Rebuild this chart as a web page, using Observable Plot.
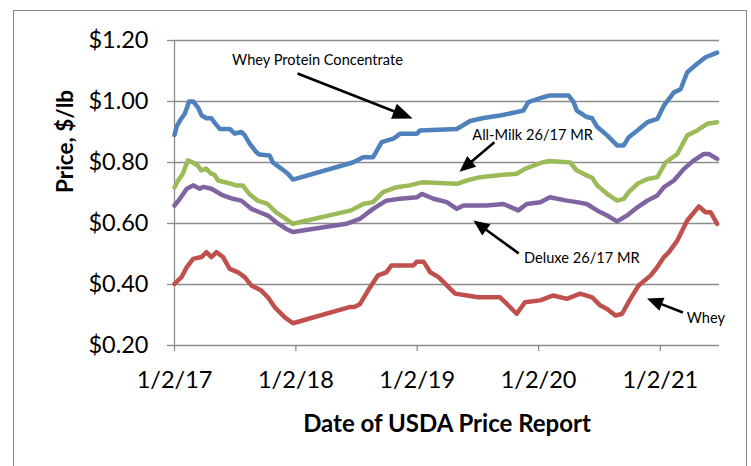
<!DOCTYPE html>
<html><head><meta charset="utf-8">
<script src="https://cdn.jsdelivr.net/npm/d3@7"></script>
<script src="https://cdn.jsdelivr.net/npm/@observablehq/plot@0.6"></script>
<style>
body{margin:0;background:#fff;}
#wrap{position:relative;width:751px;height:466px;overflow:hidden;}
#border{position:absolute;left:13px;top:10px;width:734px;height:480px;border:1.5px solid #8a8a8a;box-sizing:border-box;}
#chart{position:absolute;left:0;top:0;}
</style></head><body><div id="wrap"><div id="border"></div><div id="chart"></div></div>
<script>
// ---- data ----
const seriesNames = ["Whey Protein Concentrate", "All-Milk 26/17 MR", "Deluxe 26/17 MR", "Whey"];
const seriesColors = ["#4F81BD", "#9BBB59", "#8064A2", "#C0504D"];

const wpc = [["2017-01-02",0.89],["2017-01-09",0.92],["2017-01-23",0.945],["2017-02-02",0.96],["2017-02-15",1.0],["2017-02-27",1.0],["2017-03-14",0.98],["2017-03-24",0.955],["2017-04-08",0.945],["2017-04-23",0.945],["2017-05-03",0.93],["2017-05-18",0.91],["2017-06-17",0.91],["2017-07-02",0.895],["2017-07-22",0.90],["2017-08-01",0.89],["2017-08-16",0.862],["2017-09-05",0.834],["2017-09-15",0.826],["2017-10-15",0.823],["2017-10-25",0.80],["2017-11-19",0.78],["2017-12-09",0.763],["2017-12-24",0.744],["2018-06-22",0.80],["2018-07-23",0.817],["2018-08-22",0.817],["2018-09-17",0.867],["2018-10-22",0.878],["2018-11-11",0.894],["2019-01-01",0.894],["2019-01-10",0.905],["2019-05-01",0.91],["2019-06-10",0.936],["2019-07-20",0.946],["2019-09-08",0.954],["2019-11-17",0.97],["2019-12-02",0.998],["2020-01-16",1.014],["2020-02-05",1.02],["2020-04-01",1.02],["2020-04-16",0.998],["2020-04-26",0.97],["2020-05-26",0.949],["2020-06-11",0.945],["2020-06-26",0.917],["2020-07-26",0.889],["2020-08-25",0.856],["2020-09-14",0.856],["2020-09-29",0.883],["2020-10-25",0.905],["2020-11-24",0.932],["2020-12-24",0.943],["2021-01-13",0.987],["2021-02-12",1.03],["2021-03-04",1.04],["2021-03-24",1.096],["2021-04-23",1.124],["2021-05-18",1.145],["2021-06-22",1.16]];

const allMilk = [["2017-01-02",0.719],["2017-01-13",0.741],["2017-01-27",0.763],["2017-02-11",0.807],["2017-02-26",0.80],["2017-03-13",0.79],["2017-03-23",0.774],["2017-04-07",0.78],["2017-04-22",0.763],["2017-05-02",0.76],["2017-05-13",0.741],["2017-06-22",0.73],["2017-07-06",0.725],["2017-07-26",0.725],["2017-08-15",0.697],["2017-09-09",0.675],["2017-10-09",0.664],["2017-11-03",0.637],["2017-12-03",0.615],["2017-12-24",0.599],["2018-06-17",0.643],["2018-07-23",0.664],["2018-08-22",0.670],["2018-09-21",0.703],["2018-11-01",0.719],["2018-12-11",0.725],["2019-01-16",0.735],["2019-05-01",0.73],["2019-05-31",0.741],["2019-07-10",0.752],["2019-09-18",0.76],["2019-10-28",0.763],["2019-11-22",0.779],["2020-01-12",0.80],["2020-02-05",0.805],["2020-04-06",0.80],["2020-04-26",0.774],["2020-05-26",0.757],["2020-06-11",0.75],["2020-06-26",0.725],["2020-07-26",0.697],["2020-08-25",0.675],["2020-09-14",0.681],["2020-09-29",0.703],["2020-10-25",0.73],["2020-11-24",0.746],["2020-12-24",0.752],["2021-01-18",0.80],["2021-02-22",0.828],["2021-03-24",0.889],["2021-04-23",0.905],["2021-05-23",0.927],["2021-06-22",0.932]];

const deluxe = [["2017-01-02",0.659],["2017-01-18",0.681],["2017-02-08",0.714],["2017-02-27",0.725],["2017-03-19",0.714],["2017-03-29",0.72],["2017-04-23",0.714],["2017-05-28",0.692],["2017-06-27",0.681],["2017-07-22",0.675],["2017-08-21",0.648],["2017-09-15",0.637],["2017-10-10",0.626],["2017-11-04",0.604],["2017-12-04",0.582],["2017-12-24",0.572],["2018-06-03",0.599],["2018-07-13",0.615],["2018-08-22",0.648],["2018-10-01",0.675],["2018-11-11",0.681],["2019-01-01",0.686],["2019-01-16",0.697],["2019-02-20",0.681],["2019-04-01",0.670],["2019-05-01",0.648],["2019-05-21",0.659],["2019-07-30",0.659],["2019-09-18",0.664],["2019-11-02",0.643],["2019-11-27",0.664],["2020-01-07",0.67],["2020-02-05",0.686],["2020-03-27",0.675],["2020-04-26",0.67],["2020-05-26",0.664],["2020-06-26",0.643],["2020-07-26",0.626],["2020-08-25",0.607],["2020-09-24",0.626],["2020-10-25",0.653],["2020-11-24",0.675],["2020-12-24",0.692],["2021-01-13",0.719],["2021-02-12",0.741],["2021-03-14",0.779],["2021-04-13",0.807],["2021-05-13",0.828],["2021-05-28",0.828],["2021-06-22",0.812]];

const whey = [["2017-01-02",0.402],["2017-01-23",0.424],["2017-02-08",0.457],["2017-02-27",0.484],["2017-03-24",0.49],["2017-04-08",0.506],["2017-04-23",0.49],["2017-05-08",0.506],["2017-05-28",0.49],["2017-06-17",0.451],["2017-07-12",0.44],["2017-08-01",0.424],["2017-08-21",0.397],["2017-09-20",0.38],["2017-10-10",0.358],["2017-10-30",0.326],["2017-11-29",0.293],["2017-12-24",0.273],["2018-06-12",0.326],["2018-06-27",0.326],["2018-07-13",0.335],["2018-08-07",0.38],["2018-09-06",0.43],["2018-10-01",0.44],["2018-10-16",0.462],["2018-12-21",0.462],["2019-01-01",0.475],["2019-01-21",0.475],["2019-02-10",0.44],["2019-03-07",0.424],["2019-04-01",0.397],["2019-04-26",0.37],["2019-06-01",0.364],["2019-07-05",0.358],["2019-09-08",0.358],["2019-09-28",0.337],["2019-10-28",0.304],["2019-11-22",0.342],["2020-01-07",0.348],["2020-02-15",0.364],["2020-03-27",0.353],["2020-05-06",0.37],["2020-06-11",0.358],["2020-07-06",0.331],["2020-07-26",0.32],["2020-08-20",0.298],["2020-09-09",0.304],["2020-10-04",0.353],["2020-10-29",0.397],["2020-12-04",0.43],["2020-12-24",0.457],["2021-01-13",0.49],["2021-01-28",0.506],["2021-02-22",0.544],["2021-03-24",0.61],["2021-04-28",0.656],["2021-05-18",0.637],["2021-06-02",0.637],["2021-06-22",0.599]];

const yTicks = [0.2, 0.4, 0.6, 0.8, 1.0, 1.2];
const xTickDates = ["2017-01-02", "2018-01-02", "2019-01-02", "2020-01-02", "2021-01-02"];
const xDomain = ["2017-01-02", "2021-06-29"];
const yDomain = [0.2, 1.2];
const yTitle = "Price, $/lb";
const xTitle = "Date of USDA Price Report";

// annotations: label, label position, arrow start, arrow tip (data coordinates)
const annLabels = ["Whey Protein Concentrate", "All-Milk 26/17 MR", "Deluxe 26/17 MR", "Whey"];
const annTextAt = [["2018-03-08",1.134],["2019-12-15",0.890],["2020-05-11",0.485],["2021-05-19",0.289]];
const annFrom   = [["2018-01-07",1.092],["2019-08-22",0.866],["2019-11-03",0.502],["2021-03-11",0.308]];
const annTip    = [["2018-12-19",0.944],["2019-05-09",0.770],["2019-06-20",0.610],["2020-11-23",0.354]];
const annHead   = [20, 16, 16, 16];

// ---- build ----
const W = 751, H = 466, mL = 174, mR = 32, mT = 40, mB = 121;
const D = s => new Date(s + "T00:00:00Z");
const rows = [];
[wpc, allMilk, deluxe, whey].forEach((s, i) => s.forEach(([d, v]) => rows.push({series: seriesNames[i], date: D(d), value: v})));

const xs = Plot.scale({x: {type: "utc", domain: xDomain.map(D), range: [mL, W - mR]}});
const ys = Plot.scale({y: {type: "linear", domain: yDomain, range: [H - mB, mT]}});

const ann = annLabels.map((label, i) => {
  const fx = xs.apply(D(annFrom[i][0])), fy = ys.apply(annFrom[i][1]);
  const tx = xs.apply(D(annTip[i][0])), ty = ys.apply(annTip[i][1]);
  const dx = tx - fx, dy = ty - fy, len = Math.hypot(dx, dy);
  const h = annHead[i] - 2;
  const bx = tx - dx / len * h, by = ty - dy / len * h;
  return {
    label, tx: D(annTextAt[i][0]), ty: annTextAt[i][1],
    x1: D(annFrom[i][0]), y1: annFrom[i][1],
    x2: xs.invert(bx), y2: ys.invert(by),
    xt: D(annTip[i][0]), yt: annTip[i][1],
    angle: Math.atan2(dx, -dy) * 180 / Math.PI,
    head: annHead[i]
  };
});

const gray = "#8c8c8c";
const plot = Plot.plot({
  width: W, height: H,
  marginLeft: mL, marginRight: mR, marginTop: mT, marginBottom: mB,
  style: {fontFamily: "Lato, 'Open Sans', sans-serif", background: "transparent", overflow: "visible", color: "black"},
  x: {type: "utc", domain: xDomain.map(D)},
  y: {domain: yDomain},
  color: {domain: seriesNames, range: seriesColors},
  marks: [
    Plot.gridY(yTicks, {stroke: gray, strokeOpacity: 1, strokeWidth: 1.3}),
    Plot.ruleX([D(xDomain[0])], {stroke: gray, strokeWidth: 1.3}),
    Plot.axisY(yTicks, {tickFormat: d => "$" + d.toFixed(2), tickSize: 7, tickPadding: 19, fontSize: 23.5, stroke: gray, strokeWidth: 1.3, fill: "black", label: null}),
    Plot.axisX(xTickDates.map(D), {tickFormat: d3.utcFormat("%-m/%-d/%y"), tickSize: 6, tickPadding: 20, fontSize: 23.5, stroke: gray, strokeWidth: 1.3, fill: "black", label: null}),
    Plot.text([yTitle], {frameAnchor: "left", dx: -109, rotate: -90, fontSize: 22.5, fontWeight: "bold", lineAnchor: "middle", fill: "black"}),
    Plot.text([xTitle], {frameAnchor: "bottom", dy: 79, fontSize: 24, fontWeight: "bold", lineAnchor: "middle", fill: "black"}),
    Plot.line(rows, {x: "date", y: "value", z: "series", stroke: "series", strokeWidth: 4.5, strokeLinejoin: "round", strokeLinecap: "round"}),
    Plot.link(ann, {x1: "x1", y1: "y1", x2: "x2", y2: "y2", stroke: "black", strokeWidth: 2.6}),
    Plot.vector(ann.filter(d => d.head === 20), {x: "xt", y: "yt", rotate: "angle", length: 20, r: 8, shape: "spike", anchor: "end", fill: "black", stroke: "none"}),
    Plot.vector(ann.filter(d => d.head !== 20), {x: "xt", y: "yt", rotate: "angle", length: 16, r: 7, shape: "spike", anchor: "end", fill: "black", stroke: "none"}),
    Plot.text(ann, {x: "tx", y: "ty", text: "label", fontSize: 14.6, fill: "black", textAnchor: "middle", lineAnchor: "middle"})
  ]
});
document.getElementById("chart").appendChild(plot);
</script></body></html>
